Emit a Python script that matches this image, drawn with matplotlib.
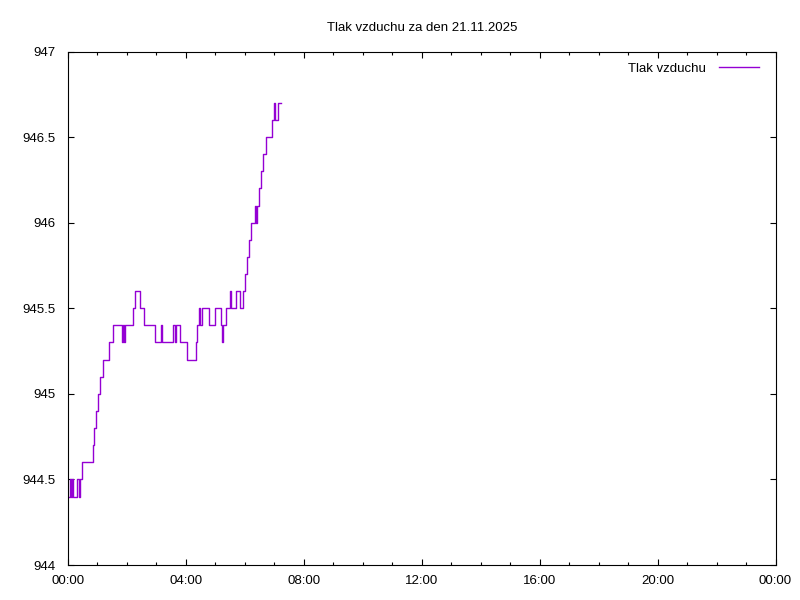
import pandas as pd
import matplotlib
matplotlib.use("Agg")
import matplotlib.pyplot as plt
import matplotlib.dates as mdates

plt.rcParams['font.family'] = ['Liberation Sans', 'DejaVu Sans']

DAY = "2025-11-21"

# pressure readings (step changes), hPa
times = ["00:02", "00:04", "00:06", "00:08", "00:10", "00:18", "00:22", "00:24",
         "00:28", "00:50", "00:53", "00:57", "01:01", "01:05", "01:12", "01:23",
         "01:31", "01:50", "01:51", "01:54", "01:55", "02:13", "02:16", "02:27",
         "02:35", "02:57", "03:09", "03:12", "03:34", "03:38", "03:40", "03:48",
         "04:03", "04:21", "04:23", "04:26", "04:28", "04:32", "04:47", "05:00",
         "05:11", "05:14", "05:16", "05:22", "05:29", "05:32", "05:42", "05:50",
         "05:56", "06:00", "06:05", "06:08", "06:12", "06:21", "06:23", "06:24",
         "06:28", "06:33", "06:36", "06:42", "06:56", "07:00", "07:02", "07:08",
         "07:14"]
pressure = [944.4, 944.5, 944.4, 944.5, 944.4, 944.5, 944.4, 944.5,
            944.6, 944.7, 944.8, 944.9, 945.0, 945.1, 945.2, 945.3,
            945.4, 945.3, 945.4, 945.3, 945.4, 945.5, 945.6, 945.5,
            945.4, 945.3, 945.4, 945.3, 945.4, 945.3, 945.4, 945.3,
            945.2, 945.3, 945.4, 945.5, 945.4, 945.5, 945.4, 945.5,
            945.4, 945.3, 945.4, 945.5, 945.6, 945.5, 945.6, 945.5,
            945.6, 945.7, 945.8, 945.9, 946.0, 946.1, 946.0, 946.1,
            946.2, 946.3, 946.4, 946.5, 946.6, 946.7, 946.6, 946.7,
            946.7]

yticks = [944, 944.5, 945, 945.5, 946, 946.5, 947]
ytick_labels = ["944", "944.5", "945", "945.5", "946", "946.5", "947"]

t = pd.to_datetime([DAY + " " + s for s in times])
start = pd.Timestamp(DAY)
end = start + pd.Timedelta(days=1)

fig = plt.figure(figsize=(8, 6), dpi=100)
ax = fig.add_axes([68 / 800, 35 / 600, 707.5 / 800, 513.5 / 600])

ax.plot(t, pressure, drawstyle='steps-post', color='#9400d3', lw=1.0,
        label='Tlak vzduchu')

ax.set_xlim(start, end)
ax.set_ylim(944, 947)
ax.set_yticks(yticks)
ax.set_yticklabels(ytick_labels)

ax.xaxis.set_major_locator(mdates.HourLocator(byhour=range(0, 24, 4)))
ax.xaxis.set_minor_locator(mdates.HourLocator())
ax.xaxis.set_major_formatter(mdates.DateFormatter('%H:%M'))

ax.tick_params(axis='both', which='major', direction='in', length=4.3,
               width=0.8, top=True, right=True, labelsize=9.5, colors='black')
ax.tick_params(axis='x', which='minor', direction='in', length=2.2,
               width=0.8, top=True)
ax.tick_params(axis='y', which='major', pad=9)
ax.tick_params(axis='x', which='major', pad=7)
for s in ax.spines.values():
    s.set_linewidth(0.8)

ax.set_title("Tlak vzduchu za den 21.11.2025", fontsize=9.5, pad=14.5)

ax.legend(loc='upper right', bbox_to_anchor=(0.976, 0.979), frameon=False,
          markerfirst=False, fontsize=9.5, handlelength=3.0, handletextpad=1.0,
          borderpad=0, borderaxespad=0)

fig.savefig("out.png", dpi=100)
